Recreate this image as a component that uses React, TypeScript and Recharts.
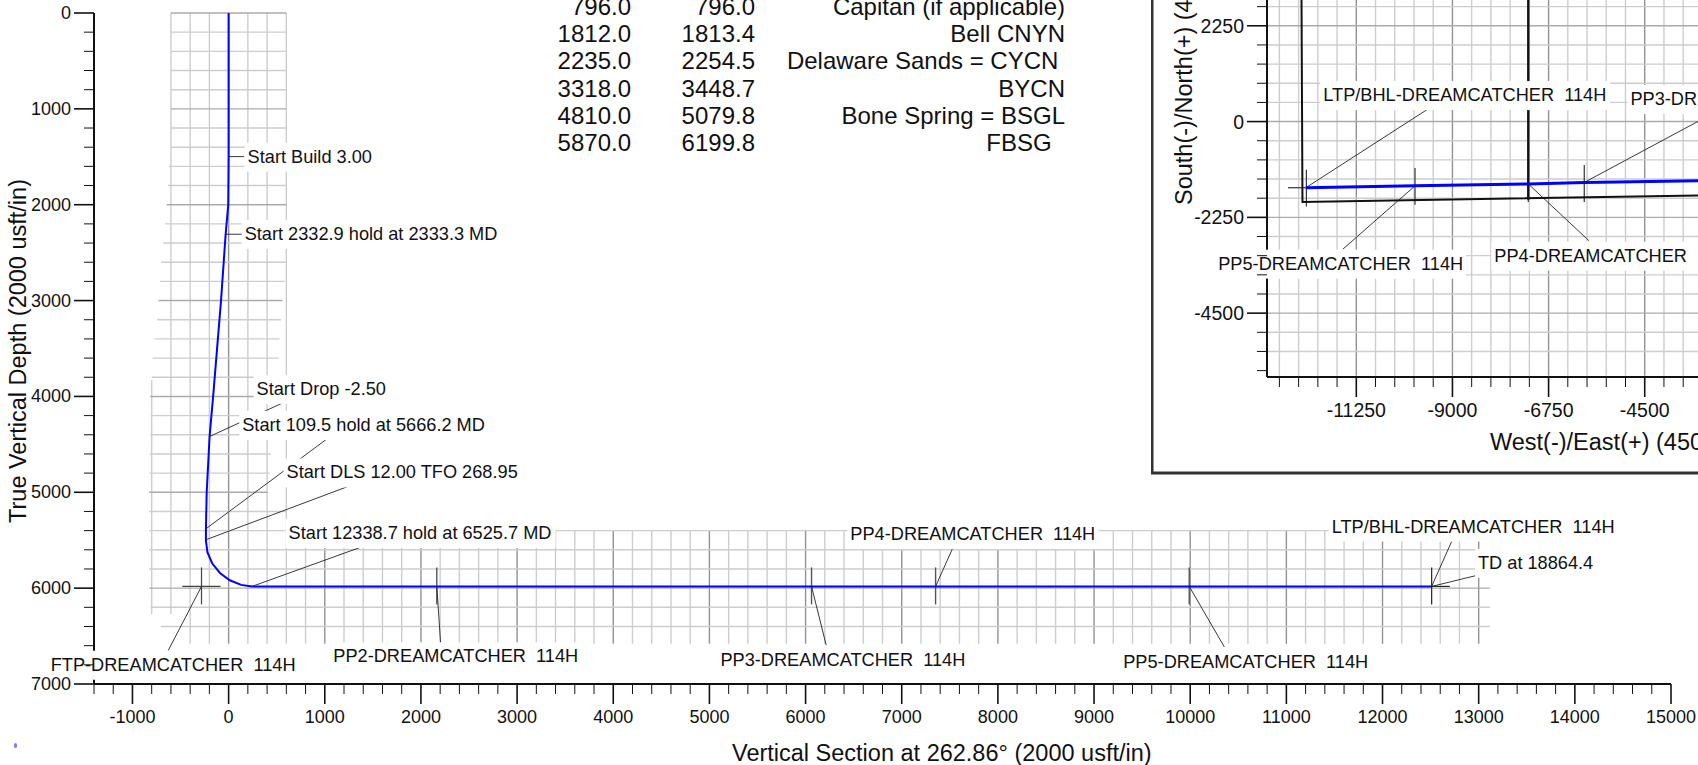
import React from "react";
import { ComposedChart, Line, XAxis, YAxis, ReferenceLine, ReferenceDot } from "recharts";

const FONT = "'Liberation Sans', Arial, sans-serif";
const range = (a: number, b: number, s: number) => {
  const out: number[] = [];
  for (let v = a; v <= b; v += s) out.push(v);
  return out;
};

/* ---------- section view data ---------- */
const pathVS = [0, 0, -4, -31, -79, -161, -198, -228, -236, -236, -220, -170, -90, 12, 130, 243, 12511];
const pathTVD = [0, 1500, 2000, 2308, 3000, 4000, 4418, 5000, 5381, 5505, 5628, 5743, 5842, 5918, 5966, 5982, 5982];

const sectionTicksX = range(-1400, 15000, 200);
const sectionTicksY = range(0, 7000, 200);

const gridDepths = range(0, 6400, 200);
const gridLeft = [-600, -600, -600, -600, -600, -600, -600, -600, -620, -630, -645, -662, -680, -700, -715, -730, -745, -770, -790, -800, -815, -811, -815, -820, -822, -826, -826, -826, -826, -826, -826, -811, -707];
const gridRight = [600, 600, 600, 600, 600, 600, 600, 600, 600, 600, 600, 600, 600, 600, 585, 561, 545, 530, 520, 490, 480, 470, 450, 436, 425, 405, 600, 13117, 13117, 13117, 13117, 13117, 13117];
const gridSections = range(-800, 13000, 200);

const targetVS = [2165, 6062, 7352, 9990];
const targetTVD = 5982;

const leaderFromVS = [0, -31, -198, -236, -236, 243, -282, 2165, 6062, 7352, 9990, 12511, 12511];
const leaderFromTVD = [1498, 2308, 4418, 5381, 5495, 5982, 5982, 5982, 5982, 5982, 5982, 5982, 5982];
const leaderToVS = [162, 146, 558, 1011, 1242, 1369, -628, 2204, 6214, 7526, 10355, 12719, 12965];
const leaderToTVD = [1498, 2308, 4070, 4452, 4939, 5575, 6650, 6566, 6594, 5592, 6614, 5513, 5871];

const sectionLabels = [
  "Start Build 3.00",
  "Start 2332.9 hold at 2333.3 MD",
  "Start Drop -2.50",
  "Start 109.5 hold at 5666.2 MD",
  "Start DLS 12.00 TFO 268.95",
  "Start 12338.7 hold at 6525.7 MD",
  "FTP-DREAMCATCHER  114H",
  "PP2-DREAMCATCHER  114H",
  "PP3-DREAMCATCHER  114H",
  "PP4-DREAMCATCHER  114H",
  "PP5-DREAMCATCHER  114H",
  "LTP/BHL-DREAMCATCHER  114H",
  "TD at 18864.4",
];
const sectionLabelVS = [208, 177, 301, 152, 613, 634, -1840, 1099, 5125, 6476, 9314, 11482, 13003];
const sectionLabelTVD = [1498, 2304, 3921, 4296, 4793, 5425, 6799, 6712, 6747, 5436, 6771, 5357, 5735];
const sectionLabelBox = [125, 253, 130, 243, 232, 262, 244, 243, 243, 243, 244, 280, 114];

/* ---------- plan view data ---------- */
const planEW = [-12432, -9876, -7225, -5915, -3242, -2500];
const planNS = [-1554, -1510, -1465, -1430, -1390, -1376];
const leaseAEW = [-12540, -12510, -3242, -2500];
const leaseANS = [4500, -1889, -1735, -1715];
const leaseBEW = [-7225, -7225];
const leaseBNS = [4500, -1836];

const planTicksX = range(-13050, -450, 450);
const planTicksY = range(-5850, 4500, 450);

const planTargetEW = [-12418, -9876, -7225, -5915];
const planTargetTop = [-1130, -1091, -1050, -1021];
const planTargetBottom = [-1993, -1953, -1890, -1889];

const planLeaderFromEW = [-12432, -9876, -7225, -5915];
const planLeaderFromNS = [-1554, -1510, -1465, -1430];
const planLeaderToEW = [-9575, -11560, -5807, -3000];
const planLeaderToNS = [293, -2993, -2798, 140];

const planLabels = [
  "LTP/BHL-DREAMCATCHER  114H",
  "PP5-DREAMCATCHER  114H",
  "PP4-DREAMCATCHER  114H",
  "PP3-DREAMCATCHER  114H",
];
const planLabelEW = [-11999, -14458, -7996, -4811];
const planLabelNS = [622, -3338, -3150, 528];
const planLabelBox = [282, 243, 243, 243];

/* ---------- formation table ---------- */
const tableTVD = ["796.0", "1812.0", "2235.0", "3318.0", "4810.0", "5870.0"];
const tableMD = ["796.0", "1813.4", "2254.5", "3448.7", "5079.8", "6199.8"];
const tableName = ["Capitan (if applicable)", "Bell CNYN", "Delaware Sands = CYCN ", "BYCN", "Bone Spring = BSGL", "FBSG  "];

/* ---------- helpers ---------- */
const MINOR = "#cdcdcd";
const MAJOR_V = "#929292";
const MAJOR_H = "#ababab";

function seg(key: string, x1: number, y1: number, x2: number, y2: number, stroke: string, w: number) {
  return (
    <ReferenceLine
      key={key}
      segment={[{ x: x1, y: y1 }, { x: x2, y: y2 }]}
      stroke={stroke}
      strokeWidth={w}
      ifOverflow="visible"
    />
  );
}

function label(key: string, text: string, x: number, y: number, boxW: number) {
  return (
    <ReferenceDot
      key={key}
      x={x}
      y={y}
      r={0}
      ifOverflow="visible"
      shape={(p: any) => (
        <g>
          <rect x={p.cx - 4} y={p.cy - 14} width={boxW + 8} height={29} fill="#fff" />
          <text
            x={p.cx - 1}
            y={p.cy}
            dominantBaseline="central"
            fontFamily={FONT}
            fontSize={18.2}
            fill="#111"
            style={{ whiteSpace: "pre" }}
          >
            {text}
          </text>
        </g>
      )}
    />
  );
}

const zip = (xs: number[], ys: number[]) => xs.map((x, i) => ({ x, y: ys[i] }));

const makeXTick = (isMajor: (v: number) => boolean, size: number) => (p: any) => {
  const v = p.payload.value;
  const maj = isMajor(v);
  return (
    <g>
      <line x1={p.x} x2={p.x} y1={p.y} y2={p.y + (maj ? 20 : 10)} stroke="#111" strokeWidth={maj ? 1.6 : 1} />
      {maj && (
        <text x={p.x} y={p.y + 33} textAnchor="middle" dominantBaseline="central" fontFamily={FONT} fontSize={size} fill="#111">
          {v}
        </text>
      )}
    </g>
  );
};
const makeYTick = (isMajor: (v: number) => boolean, size: number) => (p: any) => {
  const v = p.payload.value;
  const maj = isMajor(v);
  return (
    <g>
      <line y1={p.y} y2={p.y} x1={p.x} x2={p.x - (maj ? 20 : 10)} stroke="#111" strokeWidth={maj ? 1.6 : 1} />
      {maj && (
        <text x={p.x - 23} y={p.y} textAnchor="end" dominantBaseline="central" fontFamily={FONT} fontSize={size} fill="#111">
          {v}
        </text>
      )}
    </g>
  );
};

const titleText = (value: string, x: number, y: number, rotate: boolean) => () => (
  <text
    x={x}
    y={y}
    fontFamily={FONT}
    fontSize={23.5}
    fill="#111"
    transform={rotate ? `rotate(-90 ${x} ${y})` : undefined}
    style={{ whiteSpace: "pre" }}
  >
    {value}
  </text>
);

const SectionView = () => (
  <ComposedChart width={1698} height={765} margin={{ top: 13, right: 27, bottom: 0, left: 0 }} style={{ position: "absolute", left: 0, top: 0 }}>
    <XAxis
      type="number"
      dataKey="x"
      domain={[-1400, 15000]}
      ticks={sectionTicksX}
      interval={0}
      height={81}
      tickSize={0}
      tickMargin={0}
      tickLine={false}
      axisLine={{ stroke: "#111", strokeWidth: 2 }}
      tick={makeXTick((v) => v % 1000 === 0, 18)}
      label={{ content: titleText("Vertical Section at 262.86\u00b0 (2000 usft/in)", 732, 761, false) }}
    />
    <YAxis
      type="number"
      dataKey="y"
      reversed
      domain={[0, 7000]}
      ticks={sectionTicksY}
      interval={0}
      width={94}
      tickSize={0}
      tickMargin={0}
      tickLine={false}
      axisLine={{ stroke: "#111", strokeWidth: 2 }}
      tick={makeYTick((v) => v % 1000 === 0, 18)}
      label={{ content: titleText("True Vertical Depth (2000 usft/in)", 26, 523, true) }}
    />
    {gridSections.map((x) =>
      seg(
        `v${x}`,
        x,
        x === -800 ? 3830 : x <= 600 ? 0 : 5400,
        x,
        x <= -600 ? 6270 : 6580,
        x % 1000 === 0 ? MAJOR_V : MINOR,
        1.4
      )
    )}
    {gridDepths.map((y, i) => seg(`h${y}`, gridLeft[i], y, gridRight[i], y, y % 1000 === 0 ? MAJOR_H : MINOR, 1.4))}
    {seg("ftpH", -482, targetTVD, -84, targetTVD, "#444", 1.2)}
    {seg("ftpV", -282, 5784, -282, 6170, "#444", 1.2)}
    {targetVS.map((x) => seg(`t${x}`, x, 5784, x, 6170, "#555", 1.4))}
    {seg("ltpV", 12511, 5784, 12511, 6170, "#222", 1.2)}
    {seg("ltpH", 12511, targetTVD, 12700, targetTVD, "#222", 1.2)}
    {leaderFromVS.map((x, i) => seg(`l${i}`, x, leaderFromTVD[i], leaderToVS[i], leaderToTVD[i], "#222", 0.9))}
    {sectionLabels.map((t, i) => label(`a${i}`, t, sectionLabelVS[i], sectionLabelTVD[i], sectionLabelBox[i]))}
    <Line data={zip(pathVS, pathTVD)} dataKey="y" type="linear" dot={false} stroke="#0000ff" strokeWidth={2} isAnimationActive={false} />
  </ComposedChart>
);

const PlanView = () => (
  <ComposedChart width={800} height={556} margin={{ top: 10, right: 114, bottom: 3, left: 0 }} style={{ position: "absolute", left: 1151, top: -80 }}>
    <rect x={1} y={1} width={900} height={552} fill="#fff" stroke="#333" strokeWidth={3} />
    <XAxis
      type="number"
      dataKey="x"
      domain={[-13340, 0]}
      ticks={planTicksX}
      interval={0}
      height={96}
      tickSize={0}
      tickMargin={0}
      tickLine={false}
      axisLine={{ stroke: "#111", strokeWidth: 2 }}
      tick={makeXTick((v) => (v + 11250) % 2250 === 0, 19.5)}
      label={{ content: titleText("West(-)/East(+) (4500 usft/in)", 339, 530, false) }}
    />
    <YAxis
      type="number"
      dataKey="y"
      domain={[-6000, 4500]}
      ticks={planTicksY}
      interval={0}
      width={116}
      tickSize={0}
      tickMargin={0}
      tickLine={false}
      axisLine={{ stroke: "#111", strokeWidth: 2 }}
      tick={makeYTick((v) => v % 2250 === 0, 19.5)}
      label={{ content: titleText("South(-)/North(+) (4500 usft/in)", 41, 285, true) }}
    />
    {planTicksX.map((x) => seg(`v${x}`, x, -5970, x, 4500, (x + 11250) % 2250 === 0 ? MAJOR_V : MINOR, 1.4))}
    {planTicksY.filter((y) => y > -5800).map((y) => seg(`h${y}`, -13340, y, 0, y, y % 2250 === 0 ? MAJOR_H : MINOR, 1.4))}
    {planTargetEW.map((x, i) => seg(`t${i}`, x, planTargetTop[i], x, planTargetBottom[i], "#333", 1.2))}
    {seg("ltpH", -12850, -1554, -12432, -1554, "#333", 1.2)}
    {planLeaderFromEW.map((x, i) => seg(`l${i}`, x, planLeaderFromNS[i], planLeaderToEW[i], planLeaderToNS[i], "#222", 0.9))}
    {planLabels.map((t, i) => label(`a${i}`, t, planLabelEW[i], planLabelNS[i], planLabelBox[i]))}
    <Line data={zip(leaseAEW, leaseANS)} dataKey="y" type="linear" dot={false} stroke="#111" strokeWidth={2} isAnimationActive={false} />
    <Line data={zip(leaseBEW, leaseBNS)} dataKey="y" type="linear" dot={false} stroke="#111" strokeWidth={2.4} isAnimationActive={false} />
    <Line data={zip(planEW, planNS)} dataKey="y" type="linear" dot={false} stroke="#0000ff" strokeWidth={3} isAnimationActive={false} />
  </ComposedChart>
);

const tableCell = (right: number, top: number): React.CSSProperties => ({
  position: "absolute",
  right,
  top,
  fontFamily: FONT,
  fontSize: 24,
  lineHeight: "27px",
  color: "#111",
  whiteSpace: "pre",
});

export default function App() {
  return (
    <div style={{ position: "absolute", left: 0, top: 0, width: 1698, height: 765, overflow: "hidden", background: "#fff" }}>
      <SectionView />
      {tableTVD.map((t, i) => (
        <span key={`a${i}`} style={tableCell(1698 - 631, -7 + i * 27.2)}>{t}</span>
      ))}
      {tableMD.map((t, i) => (
        <span key={`b${i}`} style={tableCell(1698 - 755, -7 + i * 27.2)}>{t}</span>
      ))}
      {tableName.map((t, i) => (
        <span key={`c${i}`} style={tableCell(1698 - 1065, -7 + i * 27.2)}>{t}</span>
      ))}
      <PlanView />
      <div style={{ position: "absolute", left: 14, top: 743, width: 3, height: 5, borderRadius: 2, background: "#8a7fe0" }} />
    </div>
  );
}
